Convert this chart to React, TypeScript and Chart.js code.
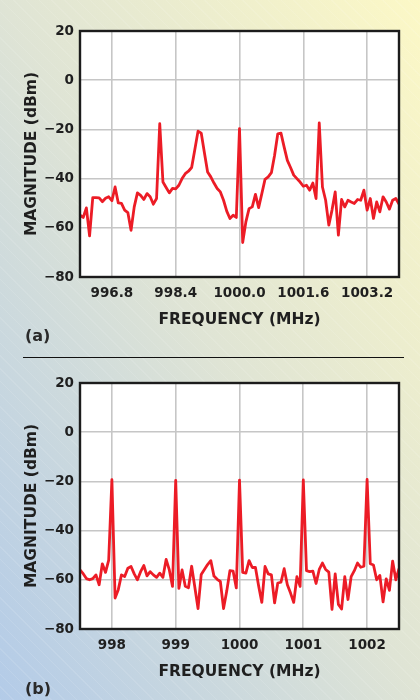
import React, { useEffect, useRef } from "react";
import { Chart, registerables } from "chart.js";

Chart.register(...registerables);

// ---------- Panel (a) ----------
const FREQ_A = [
  996.0, 996.08, 996.16, 996.24, 996.32, 996.4, 996.48, 996.56, 996.64, 996.72,
  996.8, 996.88, 996.96, 997.04, 997.12, 997.2, 997.28, 997.36, 997.44, 997.52,
  997.6, 997.68, 997.76, 997.84, 997.92, 998.0, 998.08, 998.16, 998.24, 998.32,
  998.4, 998.48, 998.56, 998.64, 998.72, 998.8, 998.88, 998.96, 999.04, 999.12,
  999.2, 999.28, 999.36, 999.44, 999.52, 999.6, 999.68, 999.76, 999.84, 999.92,
  1000.0, 1000.08, 1000.16, 1000.24, 1000.32, 1000.4, 1000.48, 1000.56, 1000.64, 1000.72,
  1000.8, 1000.88, 1000.96, 1001.04, 1001.12, 1001.2, 1001.28, 1001.36, 1001.44, 1001.52,
  1001.6, 1001.68, 1001.76, 1001.84, 1001.92, 1002.0, 1002.08, 1002.16, 1002.24, 1002.32,
  1002.4, 1002.48, 1002.56, 1002.64, 1002.72, 1002.8, 1002.88, 1002.96, 1003.04, 1003.12,
  1003.2, 1003.28, 1003.36, 1003.44, 1003.52, 1003.6, 1003.68, 1003.76, 1003.84, 1003.92,
  1004.0,
];
const MAG_A = [
  -54.9, -55.8, -51.9, -63.3, -47.7, -47.7, -47.8, -49.4, -48, -47.4,
  -49, -43.4, -49.9, -50.1, -52.8, -53.8, -61, -51.5, -45.8, -46.8,
  -48.5, -46.1, -47.4, -50.4, -48.1, -17.7, -41.4, -43.6, -45.8, -44,
  -44.2, -42.7, -40, -38, -37, -35.5, -28.2, -20.7, -21.5, -29.5,
  -37.3, -39.3, -41.8, -44, -45.4, -48.8, -53.2, -56.2, -54.9, -55.8,
  -19.7, -66, -57.6, -52.2, -51.5, -46.4, -51.8, -46.1, -40.3, -39.3,
  -37.6, -30.5, -21.8, -21.5, -27.2, -32.6, -35.5, -38.6, -40, -41.4,
  -43.1, -42.7, -44.7, -41.8, -48.1, -17.4, -43.4, -48.8, -58.9, -52.8,
  -45.4, -63, -48.5, -51.5, -48.8, -49.5, -50.1, -48.5, -48.8, -44.7,
  -52.8, -48.1, -56.2, -49.5, -53.5, -47.4, -49.5, -52.4, -48.8, -48.1,
  -50.4,
];
const X_TICKS_A = [996.8, 998.4, 1000.0, 1001.6, 1003.2];
const X_LABELS_A = ["996.8", "998.4", "1000.0", "1001.6", "1003.2"];
const X_RANGE_A = [996.0, 1004.0];

// ---------- Panel (b) ----------
const FREQ_B = [
  997.5, 997.55, 997.6, 997.65, 997.7, 997.75, 997.8, 997.85, 997.9, 997.95,
  998.0, 998.05, 998.1, 998.15, 998.2, 998.25, 998.3, 998.35, 998.4, 998.45,
  998.5, 998.55, 998.6, 998.65, 998.7, 998.75, 998.8, 998.85, 998.9, 998.95,
  999.0, 999.05, 999.1, 999.15, 999.2, 999.25, 999.3, 999.35, 999.4, 999.45,
  999.5, 999.55, 999.6, 999.65, 999.7, 999.75, 999.8, 999.85, 999.9, 999.95,
  1000.0, 1000.05, 1000.1, 1000.15, 1000.2, 1000.25, 1000.3, 1000.35, 1000.4, 1000.45,
  1000.5, 1000.55, 1000.6, 1000.65, 1000.7, 1000.75, 1000.8, 1000.85, 1000.9, 1000.95,
  1001.0, 1001.05, 1001.1, 1001.15, 1001.2, 1001.25, 1001.3, 1001.35, 1001.4, 1001.45,
  1001.5, 1001.55, 1001.6, 1001.65, 1001.7, 1001.75, 1001.8, 1001.85, 1001.9, 1001.95,
  1002.0, 1002.05, 1002.1, 1002.15, 1002.2, 1002.25, 1002.3, 1002.35, 1002.4, 1002.45,
  1002.5,
];
const MAG_B = [
  -56, -57.5, -59.5, -60, -59.5, -58, -62, -53.5, -57, -52,
  -19.3, -67.4, -64, -58, -58.7, -55.3, -54.6, -57.6, -60, -56.7,
  -54.2, -58.4, -56.7, -58, -59, -57.3, -59, -51.7, -56, -62.7,
  -19.6, -63.5, -56, -62.6, -63.2, -54.5, -63, -71.7, -57.8, -55.8,
  -53.8, -52.2, -58.5, -59.8, -60.7, -71.7, -64.6, -56.3, -56.5, -63.3,
  -19.5, -57, -57.3, -52.2, -55, -55, -62.5, -69.2, -54.6, -57.6,
  -58, -69.4, -61.3, -61, -55.5, -62, -65.4, -69.2, -58.7, -62.7,
  -19.4, -56.3, -56.7, -56.5, -61.5, -55.8, -53.2, -55.8, -56.9, -72,
  -57.6, -70, -71.9, -58.7, -68, -58.7, -56.3, -53.2, -54.9, -54.5,
  -19.2, -53.5, -54, -60, -58.2, -69, -59.6, -64.3, -52.4, -60,
  -55.5,
];
const X_TICKS_B = [998, 999, 1000, 1001, 1002];
const X_LABELS_B = ["998", "999", "1000", "1001", "1002"];
const X_RANGE_B = [997.5, 1002.5];

// ---------- Shared ----------
const Y_TICKS = [20, 0, -20, -40, -60, -80];
const Y_LABELS = ["20", "0", "\u221220", "\u221240", "\u221260", "\u221280"];
const Y_RANGE = [-80, 20];
const X_TITLE = "FREQUENCY (MHz)";
const Y_TITLE = "MAGNITUDE (dBm)";

const FONT = "'DejaVu Sans', sans-serif";
const TEXT = "#1f1f1f";
const W = 420;
const H = 350;

const framePlugin = {
  id: "frame",
  beforeDraw(chart: any) {
    const { ctx, chartArea: a } = chart;
    ctx.save();
    ctx.fillStyle = "#ffffff";
    ctx.fillRect(a.left, a.top, a.right - a.left, a.bottom - a.top);
    ctx.restore();
  },
  afterDraw(chart: any) {
    const { ctx, chartArea: a } = chart;
    ctx.save();
    ctx.strokeStyle = "#1c1c1c";
    ctx.lineWidth = 2.4;
    ctx.strokeRect(a.left, a.top, a.right - a.left, a.bottom - a.top);
    ctx.restore();
  },
};

type PanelProps = {
  freq: number[];
  mag: number[];
  xTicks: number[];
  xLabels: string[];
  xRange: number[];
  areaTop: number;
  areaBottom: number;
  xTitlePad: number;
};

function SpectrumPanel(p: PanelProps) {
  const ref = useRef<HTMLCanvasElement | null>(null);
  useEffect(() => {
    if (!ref.current) return;
    const chart = new Chart(ref.current, {
      type: "line",
      data: {
        datasets: [
          {
            data: p.freq.map((f, i) => ({ x: f, y: p.mag[i] })),
            borderColor: "#ec1c26",
            borderWidth: 2.8,
            pointRadius: 0,
            tension: 0,
            fill: false,
            borderJoinStyle: "round",
          },
        ],
      },
      options: {
        responsive: false,
        animation: false,
        events: [],
        layout: { padding: { top: p.areaTop, right: W - 399, left: 0, bottom: 0 } },
        plugins: { legend: { display: false }, tooltip: { enabled: false } },
        scales: {
          x: {
            type: "linear",
            min: p.xRange[0],
            max: p.xRange[1],
            afterBuildTicks: (s: any) => {
              s.ticks = p.xTicks.map((v) => ({ value: v }));
            },
            afterFit: (s: any) => {
              s.height = H - p.areaBottom;
            },
            ticks: {
              autoSkip: false,
              maxRotation: 0,
              padding: 8,
              color: TEXT,
              font: { family: FONT, size: 13.5, weight: "bold" },
              callback: (_v: any, i: number) => p.xLabels[i],
            },
            grid: { color: "#c6c6c6", lineWidth: 1.6, drawTicks: false },
            border: { display: false },
            title: {
              display: true,
              text: X_TITLE,
              color: TEXT,
              font: { family: FONT, size: 15.5, weight: "bold" },
              padding: { top: 0, bottom: p.xTitlePad },
            },
          },
          y: {
            type: "linear",
            min: Y_RANGE[0],
            max: Y_RANGE[1],
            afterBuildTicks: (s: any) => {
              s.ticks = Y_TICKS.map((v) => ({ value: v }));
            },
            afterFit: (s: any) => {
              s.width = 80;
            },
            ticks: {
              autoSkip: false,
              padding: 6,
              color: TEXT,
              font: { family: FONT, size: 13.5, weight: "bold" },
              callback: (_v: any, i: number) => Y_LABELS[i],
            },
            grid: { color: "#c6c6c6", lineWidth: 1.6, drawTicks: false },
            border: { display: false },
            title: {
              display: true,
              text: Y_TITLE,
              color: TEXT,
              font: { family: FONT, size: 15.5, weight: "bold" },
              padding: { top: 23, bottom: 0 },
            },
          },
        },
      } as any,
      plugins: [framePlugin],
    });
    return () => chart.destroy();
  }, []);
  return <canvas ref={ref} width={W} height={H} style={{ display: "block", width: W, height: H }} />;
}

const labelStyle: React.CSSProperties = {
  position: "absolute",
  left: 25,
  fontFamily: FONT,
  fontWeight: "bold",
  fontSize: 16,
  lineHeight: "16px",
  color: "#2a2a2a",
};

export default function App() {
  return (
    <div
      style={{
        position: "fixed",
        left: 0,
        top: 0,
        width: W,
        height: 700,
        overflow: "hidden",
        background:
          "repeating-linear-gradient(45deg, rgba(255,255,255,0.1) 0px, rgba(255,255,255,0.1) 1px, rgba(255,255,255,0) 1px, rgba(255,255,255,0) 9px), linear-gradient(to top right, #b3cbe8 0%, #dfe4d5 50%, #fcf8c6 100%)",
      }}
    >
      <div style={{ position: "absolute", left: 0, top: 0 }}>
        <SpectrumPanel
          freq={FREQ_A}
          mag={MAG_A}
          xTicks={X_TICKS_A}
          xLabels={X_LABELS_A}
          xRange={X_RANGE_A}
          areaTop={31}
          areaBottom={277}
          xTitlePad={21}
        />
      </div>
      <div style={{ ...labelStyle, top: 328 }}>(a)</div>
      <div style={{ position: "absolute", left: 23, top: 357, width: 381, height: 1, background: "#111" }} />
      <div style={{ position: "absolute", left: 0, top: 350 }}>
        <SpectrumPanel
          freq={FREQ_B}
          mag={MAG_B}
          xTicks={X_TICKS_B}
          xLabels={X_LABELS_B}
          xRange={X_RANGE_B}
          areaTop={33}
          areaBottom={279}
          xTitlePad={19}
        />
      </div>
      <div style={{ ...labelStyle, top: 681 }}>(b)</div>
    </div>
  );
}
